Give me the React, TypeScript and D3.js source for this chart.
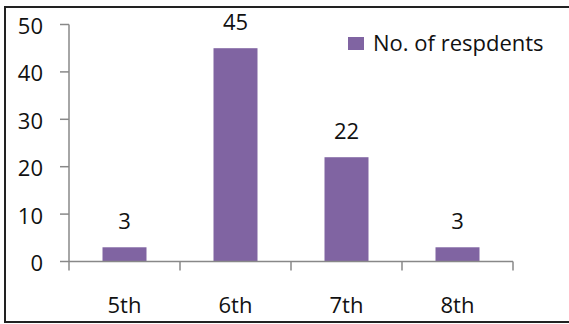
import React from "react";
import * as d3 from "d3";

const categories = ["5th", "6th", "7th", "8th"];
const values = [3, 45, 22, 3];
const yTicks = [0, 10, 20, 30, 40, 50];
const seriesName = "No. of respdents";

const W = 569;
const H = 324;
const FONT = "'Open Sans', sans-serif";

export default function App() {
  const xb = d3.scaleBand<string>().domain(categories).range([69, 513]);
  const y = d3.scaleLinear().domain([0, 50]).range([261.5, 24.5]);
  const color = "#8064A2";
  const axisColor = "#888888";
  const textColor = "#111";
  const fs = 22;
  return (
    <svg width={W} height={H} style={{ position: "absolute", left: 0, top: 0, background: "#fff" }} fontFamily={FONT} fontWeight={500}>
      <rect x={5} y={7} width={W + 10} height={H - 9} fill="#fff" stroke="#222" strokeWidth={2} />
      {values.map((v, i) => {
        const c = categories[i];
        const bw = 44;
        const cx = (xb(c) as number) + xb.bandwidth() / 2;
        return (
          <g key={c}>
            <rect x={cx - bw / 2} y={y(v)} width={bw} height={y(0) - y(v)} fill={color} />
            <text x={cx} y={y(v) - 18} textAnchor="middle" fontSize={fs} fill={textColor}>{v}</text>
            <text x={cx} y={313} textAnchor="middle" fontSize={fs} fill={textColor}>{c}</text>
          </g>
        );
      })}
      <line x1={69} x2={69} y1={y(50)} y2={y(0)} stroke={axisColor} strokeWidth={1.5} />
      {yTicks.map((t) => (
        <g key={t}>
          <line x1={60} x2={69} y1={y(t)} y2={y(t)} stroke={axisColor} strokeWidth={1.5} />
          <text x={43} y={y(t) + 9.5} textAnchor="end" fontSize={fs} fill={textColor}>{t}</text>
        </g>
      ))}
      <line x1={69} x2={513} y1={y(0)} y2={y(0)} stroke={axisColor} strokeWidth={1.5} />
      {categories.concat(["end"]).map((c, i) => {
        const xx = 69 + i * xb.bandwidth();
        return <line key={c} x1={xx} x2={xx} y1={y(0)} y2={y(0) + 9} stroke={axisColor} strokeWidth={1.5} />;
      })}
      <rect x={348} y={37} width={16} height={13} fill={color} />
      <text x={373} y={51} fontSize={fs} fill={textColor}>{seriesName}</text>
    </svg>
  );
}
